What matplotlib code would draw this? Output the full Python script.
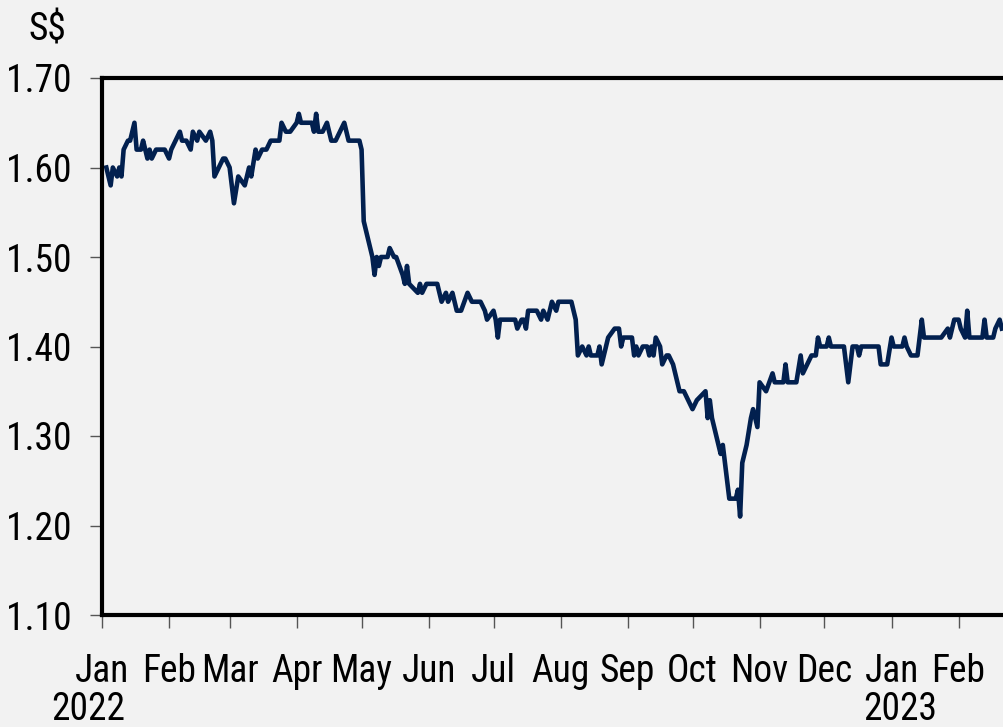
import numpy as np
import pandas as pd
import matplotlib
matplotlib.use("Agg")
import matplotlib.pyplot as plt
import matplotlib.font_manager as fm

# share price, S$
dates = [
    "2022-01-03", "2022-01-05", "2022-01-06", "2022-01-08", "2022-01-09", "2022-01-10",
    "2022-01-11", "2022-01-13", "2022-01-14", "2022-01-16", "2022-01-17", "2022-01-19",
    "2022-01-20", "2022-01-22", "2022-01-23", "2022-01-24", "2022-01-26", "2022-01-30",
    "2022-02-01", "2022-02-02", "2022-02-04", "2022-02-06", "2022-02-07", "2022-02-09",
    "2022-02-11", "2022-02-12", "2022-02-14", "2022-02-15", "2022-02-18", "2022-02-20",
    "2022-02-21", "2022-02-22", "2022-02-24", "2022-02-26", "2022-02-27", "2022-03-01",
    "2022-03-03", "2022-03-05", "2022-03-08", "2022-03-10", "2022-03-11", "2022-03-13",
    "2022-03-14", "2022-03-16", "2022-03-18", "2022-03-20", "2022-03-24", "2022-03-25",
    "2022-03-27", "2022-03-29", "2022-04-01", "2022-04-02", "2022-04-03", "2022-04-08",
    "2022-04-09", "2022-04-10", "2022-04-11", "2022-04-13", "2022-04-15", "2022-04-17",
    "2022-04-19", "2022-04-23", "2022-04-25", "2022-04-30", "2022-05-01", "2022-05-02",
    "2022-05-04", "2022-05-06", "2022-05-07", "2022-05-08", "2022-05-09", "2022-05-10",
    "2022-05-13", "2022-05-14", "2022-05-16", "2022-05-17", "2022-05-20", "2022-05-21",
    "2022-05-22", "2022-05-23", "2022-05-27", "2022-05-28", "2022-05-29", "2022-05-31",
    "2022-06-05", "2022-06-07", "2022-06-09", "2022-06-10", "2022-06-12", "2022-06-14",
    "2022-06-16", "2022-06-19", "2022-06-21", "2022-06-25", "2022-06-27", "2022-06-28",
    "2022-07-01", "2022-07-02", "2022-07-03", "2022-07-04", "2022-07-11", "2022-07-12",
    "2022-07-14", "2022-07-15", "2022-07-16", "2022-07-17", "2022-07-21", "2022-07-23",
    "2022-07-24", "2022-07-26", "2022-07-28", "2022-07-30", "2022-07-31", "2022-08-06",
    "2022-08-08", "2022-08-09", "2022-08-11", "2022-08-13", "2022-08-14", "2022-08-15",
    "2022-08-18", "2022-08-19", "2022-08-20", "2022-08-22", "2022-08-23", "2022-08-26",
    "2022-08-28", "2022-08-29", "2022-08-30", "2022-09-03", "2022-09-04", "2022-09-05",
    "2022-09-06", "2022-09-08", "2022-09-10", "2022-09-11", "2022-09-12", "2022-09-13",
    "2022-09-14", "2022-09-16", "2022-09-17", "2022-09-19", "2022-09-20", "2022-09-22",
    "2022-09-25", "2022-09-27", "2022-09-29", "2022-10-01", "2022-10-03", "2022-10-05",
    "2022-10-07", "2022-10-08", "2022-10-09", "2022-10-10", "2022-10-12", "2022-10-14",
    "2022-10-15", "2022-10-16", "2022-10-18", "2022-10-21", "2022-10-22", "2022-10-23",
    "2022-10-24", "2022-10-26", "2022-10-28", "2022-10-29", "2022-10-31", "2022-11-01",
    "2022-11-04", "2022-11-07", "2022-11-08", "2022-11-12", "2022-11-13", "2022-11-14",
    "2022-11-18", "2022-11-20", "2022-11-21", "2022-11-25", "2022-11-27", "2022-11-28",
    "2022-11-29", "2022-12-02", "2022-12-03", "2022-12-04", "2022-12-10", "2022-12-12",
    "2022-12-14", "2022-12-16", "2022-12-17", "2022-12-18", "2022-12-26", "2022-12-27",
    "2022-12-30", "2023-01-01", "2023-01-02", "2023-01-06", "2023-01-07", "2023-01-08",
    "2023-01-10", "2023-01-13", "2023-01-15", "2023-01-16", "2023-01-24", "2023-01-27",
    "2023-01-28", "2023-01-30", "2023-02-01", "2023-02-02", "2023-02-04", "2023-02-05",
    "2023-02-06", "2023-02-12", "2023-02-13", "2023-02-14", "2023-02-17", "2023-02-18",
    "2023-02-20", "2023-02-21",
]
price = [
    1.60, 1.58, 1.60, 1.59, 1.60, 1.59,
    1.62, 1.63, 1.63, 1.65, 1.62, 1.62,
    1.63, 1.61, 1.62, 1.61, 1.62, 1.62,
    1.61, 1.62, 1.63, 1.64, 1.63, 1.63,
    1.62, 1.64, 1.63, 1.64, 1.63, 1.64,
    1.63, 1.59, 1.60, 1.61, 1.61, 1.60,
    1.56, 1.59, 1.58, 1.60, 1.59, 1.62,
    1.61, 1.62, 1.62, 1.63, 1.63, 1.65,
    1.64, 1.64, 1.65, 1.66, 1.65, 1.65,
    1.64, 1.66, 1.64, 1.64, 1.65, 1.63,
    1.63, 1.65, 1.63, 1.63, 1.62, 1.54,
    1.52, 1.50, 1.48, 1.50, 1.49, 1.50,
    1.50, 1.51, 1.50, 1.50, 1.48, 1.47,
    1.49, 1.47, 1.46, 1.47, 1.46, 1.47,
    1.47, 1.45, 1.46, 1.45, 1.46, 1.44,
    1.44, 1.46, 1.45, 1.45, 1.44, 1.43,
    1.44, 1.43, 1.41, 1.43, 1.43, 1.42,
    1.43, 1.43, 1.42, 1.44, 1.44, 1.43,
    1.44, 1.43, 1.45, 1.44, 1.45, 1.45,
    1.43, 1.39, 1.40, 1.39, 1.40, 1.39,
    1.39, 1.40, 1.38, 1.40, 1.41, 1.42,
    1.42, 1.40, 1.41, 1.41, 1.39, 1.40,
    1.39, 1.40, 1.40, 1.39, 1.40, 1.39,
    1.41, 1.40, 1.38, 1.39, 1.39, 1.38,
    1.35, 1.35, 1.34, 1.33, 1.34, 1.345,
    1.35, 1.32, 1.34, 1.32, 1.30, 1.28,
    1.29, 1.27, 1.23, 1.23, 1.24, 1.21,
    1.27, 1.29, 1.32, 1.33, 1.31, 1.36,
    1.35, 1.37, 1.36, 1.36, 1.38, 1.36,
    1.36, 1.39, 1.37, 1.39, 1.39, 1.41,
    1.40, 1.40, 1.41, 1.40, 1.40, 1.36,
    1.40, 1.40, 1.39, 1.40, 1.40, 1.38,
    1.38, 1.41, 1.40, 1.40, 1.41, 1.40,
    1.39, 1.39, 1.43, 1.41, 1.41, 1.42,
    1.41, 1.43, 1.43, 1.42, 1.41, 1.44,
    1.41, 1.41, 1.43, 1.41, 1.41, 1.42,
    1.43, 1.42,
]
month_labels = ["Jan", "Feb", "Mar", "Apr", "May", "Jun", "Jul", "Aug",
                "Sep", "Oct", "Nov", "Dec", "Jan", "Feb"]
y_ticks = [1.10, 1.20, 1.30, 1.40, 1.50, 1.60, 1.70]

# the original uses a narrow Arial-like face; take one if it is installed
installed = {f.name for f in fm.fontManager.ttflist}
preferred = ["Liberation Sans Narrow", "Arial Narrow", "Roboto Condensed", "Open Sans Condensed"]
narrow = [n for n in preferred if n in installed] + sorted(n for n in installed if "Narrow" in n)
if narrow:
    plt.rcParams['font.family'] = [narrow[0], 'Liberation Sans', 'DejaVu Sans']
    fsize = 27
else:
    plt.rcParams['font.family'] = ['Liberation Sans', 'DejaVu Sans']
    fsize = 23

dates = pd.to_datetime(dates)
bg = "#f2f2f2"
navy = "#02204f"

fig = plt.figure(figsize=(10.04, 7.27), dpi=100, facecolor=bg)
ax = fig.add_axes([102 / 1004, 112 / 727, 902 / 1004, 537 / 727], facecolor=bg)

ax.plot(dates, price, color=navy, lw=3.3, solid_joinstyle="round")

ax.set_ylim(1.10, 1.70)
ax.set_yticks(y_ticks)
ax.set_yticklabels([f"{v:.2f}" for v in y_ticks])
month_starts = pd.date_range("2022-01-01", "2023-02-01", freq="MS")
ax.set_xticks(month_starts)
ax.set_xticklabels(month_labels)
ax.set_xlim(pd.Timestamp("2022-01-01"), pd.Timestamp("2023-02-22"))

for side in ["left", "top", "bottom"]:
    ax.spines[side].set_linewidth(3)
    ax.spines[side].set_color("black")
ax.spines["right"].set_visible(False)

ax.tick_params(axis="both", which="major", direction="out", length=9, width=1,
               color="#555555", labelsize=fsize, labelcolor="black")
ax.tick_params(axis="y", pad=13)
ax.tick_params(axis="x", pad=18)

fig.text(66 / 1004, 1 - 30 / 727, "S$", ha="right", va="center", fontsize=fsize)
fig.text(88 / 1004, 1 - 710 / 727, "2022", ha="center", va="center", fontsize=fsize)
fig.text(900 / 1004, 1 - 710 / 727, "2023", ha="center", va="center", fontsize=fsize)

fig.savefig("out.png", dpi=100, facecolor=bg)
